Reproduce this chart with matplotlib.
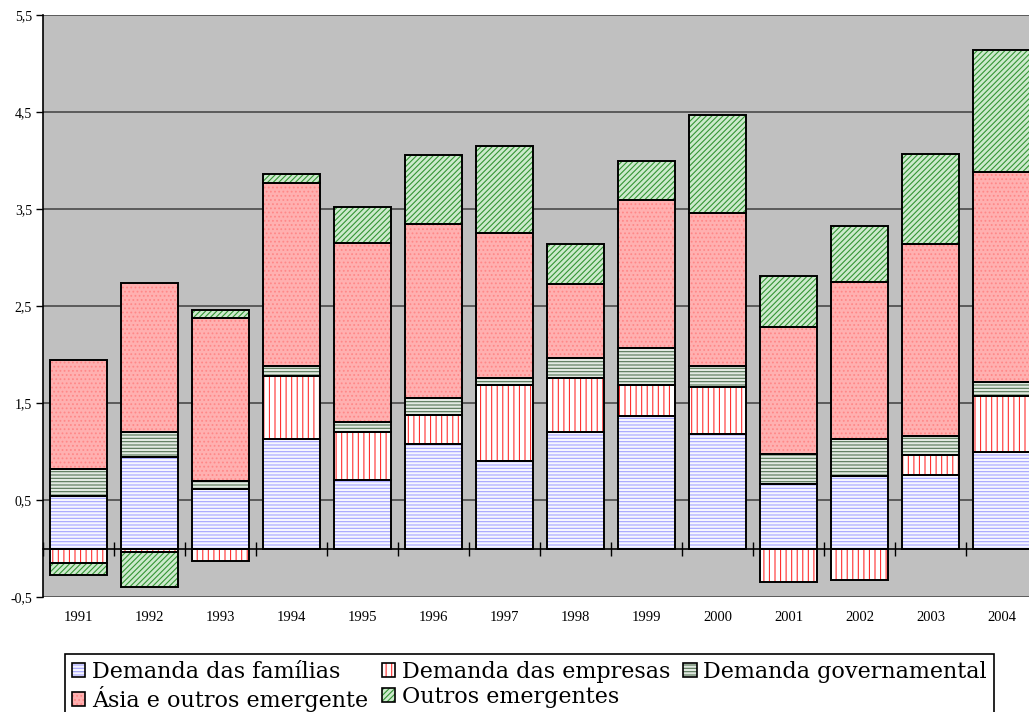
import matplotlib.pyplot as plt
import matplotlib.transforms as mtransforms
from matplotlib.patches import Patch
import numpy as np

anos = ["1991", "1992", "1993", "1994", "1995", "1996", "1997",
        "1998", "1999", "2000", "2001", "2002", "2003", "2004"]

familias = [0.54, 0.94, 0.61, 1.13, 0.71, 1.08, 0.90, 1.20, 1.37, 1.18, 0.67, 0.75, 0.755, 0.99]
empresas = [-0.15, -0.04, -0.13, 0.65, 0.49, 0.30, 0.79, 0.56, 0.32, 0.48, -0.35, -0.32, 0.21, 0.58]
governo = [0.28, 0.26, 0.09, 0.10, 0.10, 0.17, 0.07, 0.20, 0.38, 0.22, 0.30, 0.38, 0.19, 0.15]
asia = [1.12, 1.54, 1.68, 1.89, 1.85, 1.80, 1.49, 0.77, 1.52, 1.58, 1.31, 1.62, 1.98, 2.16]
outros = [-0.12, -0.36, 0.08, 0.09, 0.37, 0.71, 0.90, 0.41, 0.40, 1.01, 0.53, 0.57, 0.93, 1.26]

# (nome, valores, fundo, cor da hachura, hachura)
series = [
    ("Demanda das famílias", familias, "#f6f6ff", "#a4a4ff", "-----"),
    ("Demanda das empresas", empresas, "#ffffff", "#ff3030", "|||"),
    ("Demanda governamental", governo, "#e2eae2", "#557555", "-----"),
    ("Ásia e outros emergente", asia, "#ffb0b0", "#ff8888", "...."),
    ("Outros emergentes", outros, "#cdeacd", "#359535", "//////"),
]

plt.rcParams['hatch.linewidth'] = 0.8

fig = plt.figure(figsize=(10.29, 7.12), dpi=100)
# a area do grafico passa um pouco da borda direita, como no original
ax = fig.add_axes([43/1029, 1-597/712, 994/1029, 582/712])
ax.set_facecolor("#c0c0c0")

x = np.arange(len(anos))
w = 0.8
pos = np.zeros(len(anos))
neg = np.zeros(len(anos))
handles = []
for nome, vals, face, hc, hatch in series:
    v = np.array(vals)
    base = np.where(v >= 0, pos, neg)
    ax.bar(x, v, w, bottom=base, facecolor=face, edgecolor=hc, hatch=hatch, linewidth=0, zorder=3)
    ax.bar(x, v, w, bottom=base, fill=False, edgecolor="black", linewidth=1.4, zorder=4)
    pos = pos + np.where(v >= 0, v, 0)
    neg = neg + np.where(v < 0, v, 0)
    h1 = Patch(facecolor=face, edgecolor=hc, hatch=hatch, linewidth=0)
    h2 = Patch(fill=False, edgecolor="black", linewidth=1.2)
    handles.append(((h1, h2), nome))

ax.set_xlim(-0.5, len(anos) - 0.5)
ax.set_ylim(-0.5, 5.5)
yt = np.arange(-0.5, 5.6, 1.0)
ax.set_yticks(yt)
ax.set_yticklabels([("%.1f" % t).replace(".", ",") for t in yt],
                   fontfamily="Liberation Serif", fontsize=10)
ax.yaxis.grid(True, color="#4a4a4a", linewidth=1.2, zorder=1)
ax.set_axisbelow(True)
ax.tick_params(axis="y", direction="out", length=5, width=1, pad=3)

# eixo das categorias passando no zero
ax.spines["bottom"].set_position(("data", 0))
ax.spines["bottom"].set_linewidth(1.2)
ax.spines["bottom"].set_zorder(5)
ax.set_xticks(np.arange(-0.5, len(anos), 1.0))
ax.set_xticklabels([])
ax.tick_params(axis="x", direction="inout", length=10, width=1)
ax.spines["top"].set_visible(False)
ax.spines["right"].set_visible(False)
ax.spines["left"].set_linewidth(1.2)

trans = mtransforms.blended_transform_factory(ax.transData, ax.transAxes)
for i, a in enumerate(anos):
    ax.text(i, -0.036, a, transform=trans, ha="center", va="center",
            fontfamily="Liberation Serif", fontsize=10.5)

order = [0, 3, 1, 4, 2]
leg = fig.legend([handles[i][0] for i in order], [handles[i][1] for i in order],
                 loc="upper left", bbox_to_anchor=(65/1029, 1-654/712), ncol=3,
                 frameon=True, fancybox=False, edgecolor="black", framealpha=1,
                 prop={"family": "DejaVu Serif", "size": 16.0}, handlelength=0.6,
                 handleheight=0.6, handletextpad=0.3, columnspacing=0.6,
                 labelspacing=0.14, borderpad=0.32, borderaxespad=0)
leg.get_frame().set_linewidth(1.2)

fig.savefig("out.png", dpi=100)
